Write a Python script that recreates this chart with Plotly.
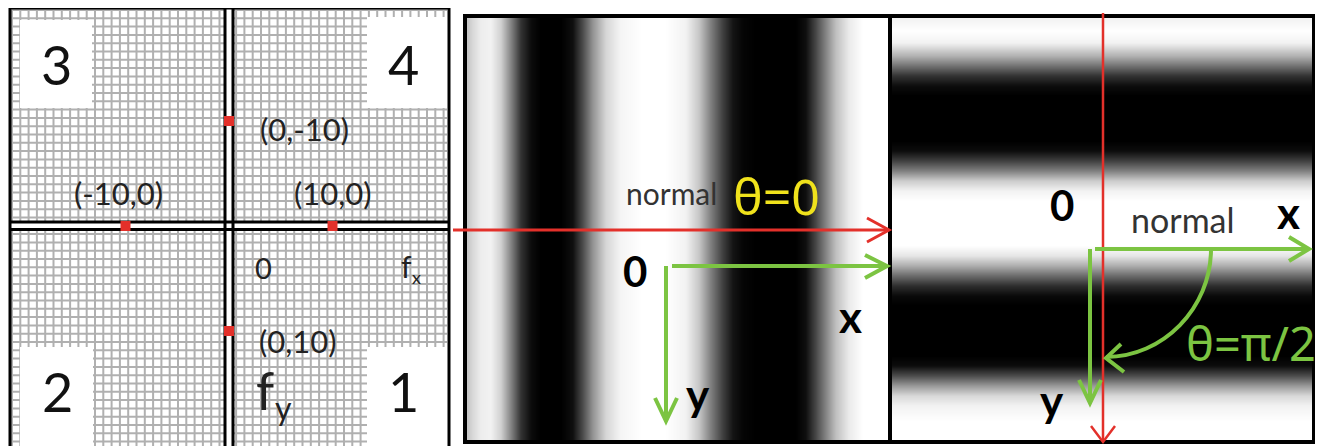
import numpy as np
import plotly.graph_objects as go

# ---------------- data ----------------
# frequency-plane marked points (fx, fy) and their labels
freq_fx = [0, -10, 10, 0]
freq_fy = [-10, 0, 0, 10]
freq_labels = ["(0,-10)", "(-10,0)", "(10,0)", "(0,10)"]
quadrant_labels = ["3", "4", "2", "1"]

# intensity profile of the vertical-stripe grating (theta = 0), 0 = black, 1 = white
vert_grating_x = [467, 472, 480, 490, 500, 510, 520, 530, 540, 560, 572, 582, 592, 605, 620,
                  640, 665, 685, 698, 710, 722, 732, 742, 755, 795, 805, 815, 825, 835, 848,
                  862, 882, 888]
vert_grating_I = [0.78, 0.85, 0.93, 0.95, 0.82, 0.52, 0.2, 0.05, 0.0, 0.0, 0.06, 0.3, 0.58, 0.84,
                  0.96, 1.0, 1.0, 0.95, 0.78, 0.5, 0.25, 0.08, 0.02, 0.0, 0.0, 0.06, 0.28, 0.52,
                  0.75, 0.92, 1.0, 1.0, 1.0]

# intensity profile of the horizontal-stripe grating (theta = pi/2)
horiz_grating_y = [17, 22, 30, 42, 55, 65, 75, 85, 95, 140, 150, 160, 170, 180, 190, 200, 245,
                   255, 265, 275, 285, 295, 305, 355, 365, 375, 385, 395, 405, 420, 436, 441]
horiz_grating_I = [0.95, 0.97, 1.0, 0.95, 0.7, 0.45, 0.2, 0.05, 0.0, 0.0, 0.05, 0.25, 0.5, 0.8,
                   0.95, 1.0, 1.0, 0.9, 0.68, 0.42, 0.18, 0.04, 0.0, 0.0, 0.05, 0.3, 0.6, 0.85,
                   0.95, 1.0, 1.0, 1.0]

RED = "#e3302a"
GREEN = "#7cc442"
YELLOW = "#f0e21c"
W, H = 1323, 446
OFF = 8  # page body margin compensation

fig = go.Figure()

# ---------------- left panel: frequency plane grid ----------------
pitch = 8.3
gx, gy = [], []
for xv in np.arange(12, 448, pitch):
    gx += [xv, xv, None]
    gy += [10, 460, None]
for yv in np.arange(10, 458, pitch):
    gx += [12, 447, None]
    gy += [yv, yv, None]
fig.add_trace(go.Scatter(x=gx, y=gy, mode="lines", line=dict(color="#b0b0b0", width=2),
                         hoverinfo="skip", showlegend=False))

# white boxes behind the quadrant numbers
boxes = [(20, 92, 20, 108), (367, 447, 17, 108), (20, 93, 347, 460), (367, 447, 347, 460)]
bx, by = [], []
for x0, x1, y0, y1 in boxes:
    bx += [x0, x1, x1, x0, x0, None]
    by += [y0, y0, y1, y1, y0, None]
fig.add_trace(go.Scatter(x=bx, y=by, mode="lines", fill="toself", fillcolor="white",
                         line=dict(width=0, color="white"), hoverinfo="skip", showlegend=False))

# double-line axes
fig.add_trace(go.Scatter(x=[229, 229, None, 10, 449], y=[8, 460, None, 226, 226], mode="lines",
                         line=dict(color="white", width=8), hoverinfo="skip", showlegend=False))
fig.add_trace(go.Scatter(x=[225, 225, None, 233, 233, None, 10, 449, None, 10, 449],
                         y=[8, 460, None, 8, 460, None, 222, 222, None, 229.5, 229.5],
                         mode="lines", line=dict(color="black", width=3),
                         hoverinfo="skip", showlegend=False))

# red marked frequencies on a frequency-scaled overlay axis
fig.add_trace(go.Scatter(x=freq_fx, y=freq_fy, xaxis="x2", yaxis="y2", mode="markers",
                         marker=dict(symbol="square", size=10, color=RED),
                         hoverinfo="skip", showlegend=False))

# ---------------- gratings ----------------
fig.add_trace(go.Heatmap(x=vert_grating_x, y=[16, 229, 442],
                         z=[vert_grating_I, vert_grating_I],
                         colorscale=[[0, "black"], [1, "white"]], zmin=0, zmax=1,
                         zsmooth="best", showscale=False, hoverinfo="skip"))
fig.add_trace(go.Heatmap(x=[891, 1102, 1314], y=horiz_grating_y,
                         z=[[v, v] for v in horiz_grating_I],
                         colorscale=[[0, "black"], [1, "white"]], zmin=0, zmax=1,
                         zsmooth="best", showscale=False, hoverinfo="skip"))

shapes = []
def line(x0, y0, x1, y1, color, width):
    shapes.append(dict(type="line", xref="x", yref="y", x0=x0, y0=y0, x1=x1, y1=y1,
                       line=dict(color=color, width=width), layer="above"))
def path(p, color, width):
    shapes.append(dict(type="path", xref="x", yref="y", path=p,
                       line=dict(color=color, width=width), layer="above"))

# borders
shapes.append(dict(type="rect", xref="x", yref="y", x0=10, x1=449, y0=8, y1=470,
                   line=dict(color="black", width=3), layer="above"))
shapes.append(dict(type="rect", xref="x", yref="y", x0=465, x1=1314, y0=16, y1=442,
                   line=dict(color="black", width=4), layer="above"))
line(890, 16, 890, 442, "black", 4)

# middle panel arrows
line(453, 230, 888, 230, RED, 3)
path("M 867,218 L 889,230 L 867,242", RED, 3)
line(672, 266, 886, 266, GREEN, 4)
path("M 865,255 L 887,266 L 865,278", GREEN, 4)
line(666, 266, 666, 420, GREEN, 4)
path("M 655,398 L 666,421 L 677,398", GREEN, 4)

# right panel arrows
line(1103, 13, 1103, 441, RED, 2.5)
path("M 1091,426 L 1103,442 L 1115,426", RED, 2.5)
line(1095, 249, 1307, 249, GREEN, 4)
path("M 1289,237 L 1309,249 L 1289,261", GREEN, 4)
line(1090, 249, 1090, 402, GREEN, 4)
path("M 1079,380 L 1090,403 L 1101,380", GREEN, 4)
k = 0.5523 * 108
path(f"M 1211,249 C 1211,{249 + k:.1f} {1103 + k:.1f},357 1106,357", GREEN, 4)
path("M 1121,344 L 1106,358 L 1124,372", GREEN, 4)

# ---------------- text ----------------
ann = []
def txt(x, y, s, size, color="black", bold=False, xanchor="center", family="Lato"):
    ann.append(dict(x=x, y=y, xref="x", yref="y", text=f"<b>{s}</b>" if bold else s,
                    showarrow=False, xanchor=xanchor, yanchor="middle",
                    font=dict(size=size, color=color, family=family)))

quad_pos = [(56, 64), (403, 64), (57, 391), (403, 391)]
for (qx, qy), s in zip(quad_pos, quadrant_labels):
    txt(qx, qy, s, 54, "#111")
label_pos = [(304, 129), (118, 193), (333, 193), (298, 341)]
for (lx, ly), s in zip(label_pos, freq_labels):
    txt(lx, ly, s, 31, "#222")
txt(263, 267, "0", 29, "#222")
# f_x and f_y with their subscripts as separate small texts
txt(406, 266, "f", 30, "#222")
txt(416, 277, "x", 18, "#222")
txt(265, 390, "f", 52, "#222")
txt(283, 407, "y", 32, "#222")

txt(624, 193, "normal", 30, "#333", xanchor="left")
txt(731, 196, "θ=0", 50, YELLOW, xanchor="left", family="Noto Sans")
txt(635, 271, "0", 42, "black", bold=True)
txt(850, 316, "x", 44, "black", bold=True)
txt(698, 394, "y", 44, "black", bold=True)

txt(1062, 205, "0", 42, "black", bold=True)
txt(1183, 219, "normal", 34, "#333")
txt(1288, 212, "x", 44, "black", bold=True)
txt(1052, 400, "y", 44, "black", bold=True)
txt(1184, 343, "θ=π/2", 47, GREEN, xanchor="left", family="Noto Sans")

fig.update_layout(
    width=W, height=H, autosize=False,
    margin=dict(l=0, r=0, t=0, b=0),
    paper_bgcolor="white", plot_bgcolor="white",
    xaxis=dict(range=[OFF, W + OFF], visible=False, fixedrange=True),
    yaxis=dict(range=[H + OFF, OFF], visible=False, fixedrange=True),
    xaxis2=dict(overlaying="x", range=[(OFF - 229) / 10.35, (W + OFF - 229) / 10.35],
                visible=False),
    yaxis2=dict(overlaying="y", range=[(H + OFF - 226) / 10.5, (OFF - 226) / 10.5],
                visible=False),
    shapes=shapes, annotations=ann, showlegend=False,
)
fig.write_html("out.html")
